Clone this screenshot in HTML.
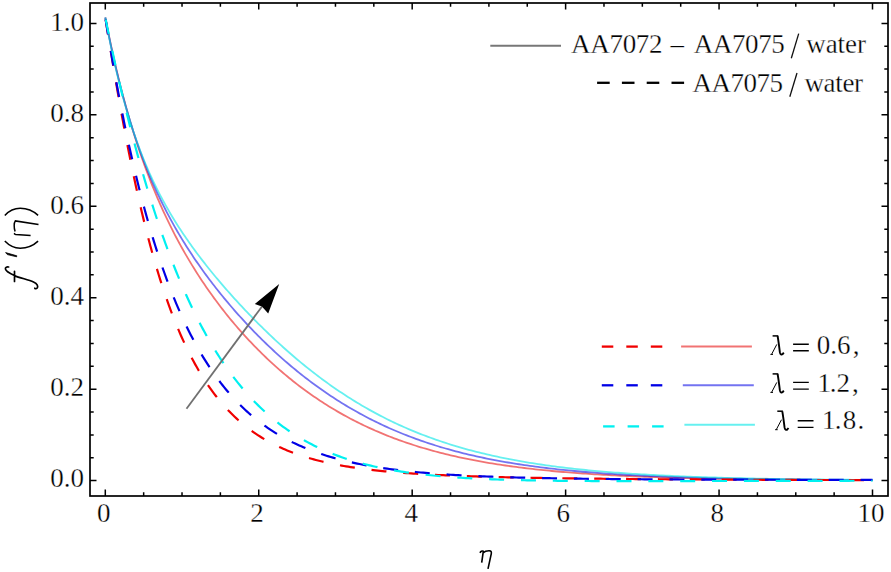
<!DOCTYPE html>
<html><head><meta charset="utf-8"><style>html,body{margin:0;padding:0;background:#fff;overflow:hidden}svg{display:block}</style></head>
<body><svg width="891" height="572" viewBox="0 0 891 572" font-family='"Liberation Serif", serif' font-size="27" fill="#000"><style>text{stroke:#fff;stroke-width:0.3px}</style>
<rect x="0" y="0" width="891" height="572" fill="#fff"/>
<path d="M105.30,17.49 L105.36,17.81 L105.49,18.47 L105.66,19.36 L105.88,20.45 L106.12,21.70 L106.40,23.12 L106.71,24.67 L107.04,26.35 L107.41,28.15 L107.79,30.07 L108.20,32.08 L108.64,34.20 L109.09,36.40 L109.57,38.69 L110.07,41.06 L110.59,43.51 L111.13,46.02 L111.69,48.60 L112.26,51.24 L112.86,53.93 L113.47,56.68 L114.10,59.48 L114.75,62.32 L115.42,65.20 L116.10,68.13 L116.80,71.09 L117.52,74.08 L118.25,77.10 L119.00,80.15 L119.76,83.22 L120.54,86.32 L121.33,89.43 L122.14,92.56 L122.97,95.71 L123.80,98.87 L124.66,102.04 L125.52,105.22 L126.41,108.41 L127.30,111.60 L128.21,114.79 L129.13,117.99 L130.07,121.19 L131.02,124.38 L131.99,127.58 L132.96,130.77 L133.95,133.96 L134.96,137.14 L135.97,140.31 L137.00,143.48 L138.04,146.63 L139.10,149.78 L140.16,152.92 L141.24,156.04 L142.33,159.16 L143.44,162.26 L144.55,165.35 L145.68,168.42 L146.82,171.48 L147.97,174.52 L149.13,177.55 L150.31,180.56 L151.49,183.56 L152.69,186.54 L153.90,189.51 L155.12,192.45 L156.35,195.39 L157.60,198.30 L158.85,201.19 L160.12,204.07 L161.39,206.93 L162.68,209.77 L163.98,212.60 L165.29,215.41 L166.61,218.19 L167.94,220.97 L169.28,223.72 L170.63,226.45 L172.00,229.17 L173.37,231.87 L174.75,234.55 L176.15,237.22 L177.55,239.86 L178.97,242.49 L180.39,245.10 L181.83,247.70 L183.27,250.27 L184.73,252.83 L186.20,255.37 L187.67,257.90 L189.16,260.41 L190.65,262.90 L192.16,265.37 L193.68,267.83 L195.20,270.28 L196.74,272.70 L198.28,275.11 L199.83,277.51 L201.40,279.88 L202.97,282.25 L204.56,284.59 L206.15,286.92 L207.75,289.24 L209.36,291.54 L210.98,293.82 L212.61,296.09 L214.25,298.35 L215.90,300.58 L217.56,302.81 L219.23,305.02 L220.91,307.21 L222.59,309.39 L224.29,311.55 L225.99,313.70 L227.71,315.83 L229.43,317.95 L231.16,320.06 L232.90,322.15 L234.65,324.22 L236.41,326.28 L238.18,328.33 L239.95,330.36 L241.74,332.38 L243.53,334.38 L245.33,336.37 L247.14,338.34 L248.96,340.29 L250.79,342.24 L252.63,344.17 L254.48,346.08 L256.33,347.98 L258.19,349.86 L260.07,351.73 L261.95,353.58 L263.83,355.42 L265.73,357.25 L267.64,359.05 L269.55,360.85 L271.47,362.63 L273.41,364.39 L275.34,366.14 L277.29,367.87 L279.25,369.59 L281.21,371.29 L283.18,372.98 L285.16,374.65 L287.15,376.31 L289.15,377.95 L291.16,379.57 L293.17,381.18 L295.19,382.78 L297.22,384.36 L299.26,385.92 L301.30,387.47 L303.36,389.00 L305.42,390.51 L307.49,392.01 L309.57,393.50 L311.65,394.97 L313.75,396.42 L315.85,397.86 L317.96,399.28 L320.07,400.68 L322.20,402.07 L324.33,403.44 L326.47,404.80 L328.62,406.14 L330.78,407.47 L332.94,408.78 L335.11,410.07 L337.29,411.35 L339.48,412.62 L341.68,413.86 L343.88,415.09 L346.09,416.31 L348.31,417.51 L350.53,418.69 L352.77,419.86 L355.01,421.02 L357.25,422.15 L359.51,423.28 L361.77,424.38 L364.04,425.47 L366.32,426.55 L368.61,427.61 L370.90,428.66 L373.20,429.69 L375.51,430.70 L377.83,431.70 L380.15,432.69 L382.48,433.66 L384.82,434.62 L387.16,435.56 L389.52,436.49 L391.88,437.40 L394.24,438.30 L396.62,439.18 L399.00,440.05 L401.39,440.91 L403.78,441.75 L406.19,442.58 L408.60,443.40 L411.02,444.20 L413.44,444.99 L415.87,445.76 L418.31,446.52 L420.76,447.27 L423.21,448.01 L425.68,448.73 L428.14,449.44 L430.62,450.14 L433.10,450.82 L435.59,451.50 L438.09,452.16 L440.59,452.81 L443.10,453.44 L445.62,454.07 L448.14,454.68 L450.67,455.28 L453.21,455.87 L455.76,456.45 L458.31,457.02 L460.87,457.58 L463.43,458.12 L466.01,458.66 L468.59,459.18 L471.17,459.70 L473.77,460.20 L476.37,460.69 L478.98,461.18 L481.59,461.65 L484.21,462.12 L486.84,462.57 L489.47,463.02 L492.11,463.45 L494.76,463.88 L497.42,464.30 L500.08,464.71 L502.75,465.11 L505.42,465.50 L508.11,465.88 L510.79,466.26 L513.49,466.63 L516.19,466.98 L518.90,467.34 L521.62,467.68 L524.34,468.01 L527.07,468.34 L529.80,468.66 L532.54,468.98 L535.29,469.28 L538.05,469.58 L540.81,469.87 L543.58,470.16 L546.35,470.44 L549.14,470.71 L551.92,470.98 L554.72,471.24 L557.52,471.49 L560.33,471.74 L563.14,471.98 L565.96,472.21 L568.79,472.44 L571.62,472.67 L574.46,472.89 L577.31,473.10 L580.16,473.31 L583.02,473.51 L585.89,473.71 L588.76,473.91 L591.64,474.09 L594.52,474.28 L597.42,474.46 L600.31,474.63 L603.22,474.80 L606.13,474.97 L609.05,475.13 L611.97,475.29 L614.90,475.44 L617.84,475.59 L620.78,475.73 L623.73,475.88 L626.68,476.01 L629.64,476.15 L632.61,476.28 L635.58,476.41 L638.57,476.53 L641.55,476.65 L644.54,476.77 L647.54,476.88 L650.55,476.99 L653.56,477.10 L656.58,477.21 L659.60,477.31 L662.63,477.41 L665.67,477.50 L668.71,477.60 L671.76,477.69 L674.81,477.78 L677.87,477.86 L680.94,477.95 L684.01,478.03 L687.09,478.11 L690.18,478.19 L693.27,478.26 L696.37,478.33 L699.47,478.40 L702.58,478.47 L705.70,478.54 L708.82,478.60 L711.95,478.67 L715.08,478.73 L718.22,478.79 L721.37,478.84 L724.52,478.90 L727.68,478.95 L730.84,479.01 L734.01,479.06 L737.19,479.11 L740.37,479.15 L743.56,479.20 L746.75,479.25 L749.95,479.29 L753.16,479.33 L756.37,479.37 L759.59,479.41 L762.81,479.45 L766.04,479.49 L769.28,479.53 L772.52,479.56 L775.77,479.60 L779.02,479.63 L782.28,479.66 L785.55,479.69 L788.82,479.72 L792.10,479.75 L795.38,479.78 L798.67,479.81 L801.97,479.83 L805.27,479.86 L808.57,479.88 L811.89,479.91 L815.20,479.93 L818.53,479.95 L821.86,479.98 L825.19,480.00 L828.53,480.02 L831.88,480.04 L835.24,480.06 L838.59,480.08 L841.96,480.09 L845.33,480.11 L848.71,480.13 L852.09,480.14 L855.48,480.16 L858.87,480.18 L862.27,480.19 L865.67,480.20 L869.08,480.22 L872.50,480.23" fill="none" stroke="#e60000" stroke-opacity="0.55" stroke-width="1.8"/>
<path d="M105.30,17.49 L105.36,17.82 L105.49,18.50 L105.66,19.41 L105.88,20.53 L106.12,21.82 L106.40,23.27 L106.71,24.86 L107.04,26.59 L107.41,28.43 L107.79,30.39 L108.20,32.45 L108.64,34.60 L109.09,36.85 L109.57,39.18 L110.07,41.59 L110.59,44.07 L111.13,46.62 L111.69,49.22 L112.26,51.89 L112.86,54.61 L113.47,57.37 L114.10,60.19 L114.75,63.04 L115.42,65.93 L116.10,68.85 L116.80,71.80 L117.52,74.78 L118.25,77.79 L119.00,80.81 L119.76,83.85 L120.54,86.91 L121.33,89.98 L122.14,93.06 L122.97,96.15 L123.80,99.25 L124.66,102.35 L125.52,105.45 L126.41,108.56 L127.30,111.66 L128.21,114.76 L129.13,117.85 L130.07,120.94 L131.02,124.02 L131.99,127.09 L132.96,130.15 L133.95,133.20 L134.96,136.24 L135.97,139.26 L137.00,142.27 L138.04,145.27 L139.10,148.25 L140.16,151.22 L141.24,154.17 L142.33,157.10 L143.44,160.02 L144.55,162.91 L145.68,165.79 L146.82,168.65 L147.97,171.50 L149.13,174.32 L150.31,177.12 L151.49,179.91 L152.69,182.67 L153.90,185.42 L155.12,188.15 L156.35,190.85 L157.60,193.54 L158.85,196.21 L160.12,198.86 L161.39,201.49 L162.68,204.11 L163.98,206.70 L165.29,209.28 L166.61,211.84 L167.94,214.38 L169.28,216.90 L170.63,219.41 L172.00,221.90 L173.37,224.37 L174.75,226.82 L176.15,229.26 L177.55,231.69 L178.97,234.09 L180.39,236.49 L181.83,238.86 L183.27,241.23 L184.73,243.58 L186.20,245.91 L187.67,248.23 L189.16,250.54 L190.65,252.83 L192.16,255.11 L193.68,257.38 L195.20,259.64 L196.74,261.88 L198.28,264.11 L199.83,266.33 L201.40,268.54 L202.97,270.74 L204.56,272.92 L206.15,275.10 L207.75,277.26 L209.36,279.42 L210.98,281.56 L212.61,283.69 L214.25,285.82 L215.90,287.93 L217.56,290.03 L219.23,292.13 L220.91,294.21 L222.59,296.29 L224.29,298.35 L225.99,300.41 L227.71,302.45 L229.43,304.49 L231.16,306.52 L232.90,308.53 L234.65,310.54 L236.41,312.54 L238.18,314.53 L239.95,316.51 L241.74,318.48 L243.53,320.45 L245.33,322.40 L247.14,324.34 L248.96,326.28 L250.79,328.20 L252.63,330.11 L254.48,332.02 L256.33,333.91 L258.19,335.80 L260.07,337.67 L261.95,339.53 L263.83,341.39 L265.73,343.23 L267.64,345.06 L269.55,346.89 L271.47,348.70 L273.41,350.50 L275.34,352.29 L277.29,354.07 L279.25,355.83 L281.21,357.59 L283.18,359.33 L285.16,361.06 L287.15,362.78 L289.15,364.49 L291.16,366.19 L293.17,367.87 L295.19,369.54 L297.22,371.20 L299.26,372.85 L301.30,374.48 L303.36,376.10 L305.42,377.71 L307.49,379.30 L309.57,380.88 L311.65,382.45 L313.75,384.00 L315.85,385.54 L317.96,387.07 L320.07,388.58 L322.20,390.08 L324.33,391.56 L326.47,393.04 L328.62,394.49 L330.78,395.93 L332.94,397.36 L335.11,398.77 L337.29,400.17 L339.48,401.55 L341.68,402.92 L343.88,404.28 L346.09,405.62 L348.31,406.94 L350.53,408.25 L352.77,409.54 L355.01,410.82 L357.25,412.09 L359.51,413.34 L361.77,414.57 L364.04,415.79 L366.32,416.99 L368.61,418.18 L370.90,419.36 L373.20,420.52 L375.51,421.66 L377.83,422.79 L380.15,423.90 L382.48,425.00 L384.82,426.09 L387.16,427.16 L389.52,428.21 L391.88,429.25 L394.24,430.27 L396.62,431.28 L399.00,432.28 L401.39,433.26 L403.78,434.22 L406.19,435.17 L408.60,436.11 L411.02,437.03 L413.44,437.94 L415.87,438.84 L418.31,439.72 L420.76,440.58 L423.21,441.43 L425.68,442.27 L428.14,443.10 L430.62,443.91 L433.10,444.70 L435.59,445.49 L438.09,446.26 L440.59,447.02 L443.10,447.76 L445.62,448.49 L448.14,449.21 L450.67,449.92 L453.21,450.61 L455.76,451.29 L458.31,451.96 L460.87,452.62 L463.43,453.26 L466.01,453.89 L468.59,454.51 L471.17,455.12 L473.77,455.72 L476.37,456.30 L478.98,456.88 L481.59,457.44 L484.21,458.00 L486.84,458.54 L489.47,459.07 L492.11,459.59 L494.76,460.10 L497.42,460.60 L500.08,461.09 L502.75,461.57 L505.42,462.04 L508.11,462.50 L510.79,462.95 L513.49,463.39 L516.19,463.82 L518.90,464.24 L521.62,464.66 L524.34,465.06 L527.07,465.46 L529.80,465.84 L532.54,466.22 L535.29,466.59 L538.05,466.96 L540.81,467.31 L543.58,467.66 L546.35,467.99 L549.14,468.33 L551.92,468.65 L554.72,468.96 L557.52,469.27 L560.33,469.57 L563.14,469.87 L565.96,470.16 L568.79,470.44 L571.62,470.71 L574.46,470.98 L577.31,471.24 L580.16,471.50 L583.02,471.75 L585.89,471.99 L588.76,472.23 L591.64,472.46 L594.52,472.68 L597.42,472.91 L600.31,473.12 L603.22,473.33 L606.13,473.53 L609.05,473.73 L611.97,473.93 L614.90,474.12 L617.84,474.30 L620.78,474.48 L623.73,474.66 L626.68,474.83 L629.64,474.99 L632.61,475.16 L635.58,475.31 L638.57,475.47 L641.55,475.62 L644.54,475.76 L647.54,475.90 L650.55,476.04 L653.56,476.18 L656.58,476.31 L659.60,476.44 L662.63,476.56 L665.67,476.68 L668.71,476.80 L671.76,476.91 L674.81,477.02 L677.87,477.13 L680.94,477.24 L684.01,477.34 L687.09,477.44 L690.18,477.53 L693.27,477.63 L696.37,477.72 L699.47,477.81 L702.58,477.89 L705.70,477.98 L708.82,478.06 L711.95,478.14 L715.08,478.21 L718.22,478.29 L721.37,478.36 L724.52,478.43 L727.68,478.50 L730.84,478.57 L734.01,478.63 L737.19,478.69 L740.37,478.75 L743.56,478.81 L746.75,478.87 L749.95,478.92 L753.16,478.98 L756.37,479.03 L759.59,479.08 L762.81,479.13 L766.04,479.18 L769.28,479.22 L772.52,479.27 L775.77,479.31 L779.02,479.35 L782.28,479.39 L785.55,479.43 L788.82,479.47 L792.10,479.51 L795.38,479.55 L798.67,479.58 L801.97,479.61 L805.27,479.65 L808.57,479.68 L811.89,479.71 L815.20,479.74 L818.53,479.77 L821.86,479.80 L825.19,479.82 L828.53,479.85 L831.88,479.88 L835.24,479.90 L838.59,479.92 L841.96,479.95 L845.33,479.97 L848.71,479.99 L852.09,480.01 L855.48,480.03 L858.87,480.05 L862.27,480.07 L865.67,480.09 L869.08,480.11 L872.50,480.12" fill="none" stroke="#0000e6" stroke-opacity="0.55" stroke-width="1.8"/>
<path d="M105.30,17.49 L105.36,17.83 L105.49,18.53 L105.66,19.47 L105.88,20.62 L106.12,21.96 L106.40,23.45 L106.71,25.09 L107.04,26.87 L107.41,28.76 L107.79,30.77 L108.20,32.89 L108.64,35.10 L109.09,37.40 L109.57,39.78 L110.07,42.24 L110.59,44.77 L111.13,47.37 L111.69,50.02 L112.26,52.73 L112.86,55.49 L113.47,58.29 L114.10,61.13 L114.75,64.01 L115.42,66.92 L116.10,69.86 L116.80,72.83 L117.52,75.82 L118.25,78.82 L119.00,81.84 L119.76,84.88 L120.54,87.92 L121.33,90.97 L122.14,94.02 L122.97,97.08 L123.80,100.14 L124.66,103.19 L125.52,106.24 L126.41,109.28 L127.30,112.32 L128.21,115.34 L129.13,118.36 L130.07,121.36 L131.02,124.35 L131.99,127.32 L132.96,130.28 L133.95,133.22 L134.96,136.14 L135.97,139.05 L137.00,141.93 L138.04,144.79 L139.10,147.64 L140.16,150.46 L141.24,153.26 L142.33,156.04 L143.44,158.80 L144.55,161.53 L145.68,164.24 L146.82,166.93 L147.97,169.60 L149.13,172.24 L150.31,174.86 L151.49,177.46 L152.69,180.04 L153.90,182.59 L155.12,185.13 L156.35,187.64 L157.60,190.13 L158.85,192.59 L160.12,195.04 L161.39,197.47 L162.68,199.88 L163.98,202.27 L165.29,204.64 L166.61,206.99 L167.94,209.32 L169.28,211.64 L170.63,213.93 L172.00,216.21 L173.37,218.48 L174.75,220.73 L176.15,222.96 L177.55,225.18 L178.97,227.39 L180.39,229.58 L181.83,231.76 L183.27,233.93 L184.73,236.08 L186.20,238.22 L187.67,240.35 L189.16,242.47 L190.65,244.58 L192.16,246.68 L193.68,248.77 L195.20,250.85 L196.74,252.93 L198.28,254.99 L199.83,257.04 L201.40,259.09 L202.97,261.13 L204.56,263.17 L206.15,265.19 L207.75,267.21 L209.36,269.22 L210.98,271.23 L212.61,273.23 L214.25,275.23 L215.90,277.22 L217.56,279.20 L219.23,281.18 L220.91,283.16 L222.59,285.13 L224.29,287.09 L225.99,289.05 L227.71,291.00 L229.43,292.95 L231.16,294.90 L232.90,296.84 L234.65,298.78 L236.41,300.71 L238.18,302.64 L239.95,304.56 L241.74,306.48 L243.53,308.39 L245.33,310.30 L247.14,312.20 L248.96,314.10 L250.79,315.99 L252.63,317.88 L254.48,319.76 L256.33,321.64 L258.19,323.51 L260.07,325.37 L261.95,327.23 L263.83,329.09 L265.73,330.93 L267.64,332.77 L269.55,334.60 L271.47,336.43 L273.41,338.25 L275.34,340.06 L277.29,341.86 L279.25,343.66 L281.21,345.45 L283.18,347.23 L285.16,349.00 L287.15,350.76 L289.15,352.52 L291.16,354.26 L293.17,356.00 L295.19,357.72 L297.22,359.44 L299.26,361.15 L301.30,362.84 L303.36,364.53 L305.42,366.20 L307.49,367.87 L309.57,369.52 L311.65,371.16 L313.75,372.79 L315.85,374.41 L317.96,376.02 L320.07,377.61 L322.20,379.20 L324.33,380.77 L326.47,382.33 L328.62,383.87 L330.78,385.40 L332.94,386.92 L335.11,388.43 L337.29,389.92 L339.48,391.40 L341.68,392.87 L343.88,394.32 L346.09,395.76 L348.31,397.18 L350.53,398.59 L352.77,399.99 L355.01,401.37 L357.25,402.74 L359.51,404.09 L361.77,405.43 L364.04,406.76 L366.32,408.06 L368.61,409.36 L370.90,410.64 L373.20,411.90 L375.51,413.15 L377.83,414.39 L380.15,415.61 L382.48,416.81 L384.82,418.00 L387.16,419.18 L389.52,420.34 L391.88,421.48 L394.24,422.61 L396.62,423.73 L399.00,424.83 L401.39,425.91 L403.78,426.98 L406.19,428.04 L408.60,429.08 L411.02,430.10 L413.44,431.11 L415.87,432.11 L418.31,433.09 L420.76,434.06 L423.21,435.01 L425.68,435.95 L428.14,436.87 L430.62,437.78 L433.10,438.68 L435.59,439.56 L438.09,440.42 L440.59,441.27 L443.10,442.11 L445.62,442.94 L448.14,443.75 L450.67,444.55 L453.21,445.33 L455.76,446.10 L458.31,446.86 L460.87,447.60 L463.43,448.34 L466.01,449.05 L468.59,449.76 L471.17,450.45 L473.77,451.13 L476.37,451.80 L478.98,452.46 L481.59,453.10 L484.21,453.73 L486.84,454.35 L489.47,454.96 L492.11,455.56 L494.76,456.15 L497.42,456.72 L500.08,457.28 L502.75,457.84 L505.42,458.38 L508.11,458.91 L510.79,459.43 L513.49,459.94 L516.19,460.44 L518.90,460.93 L521.62,461.41 L524.34,461.88 L527.07,462.34 L529.80,462.79 L532.54,463.23 L535.29,463.66 L538.05,464.08 L540.81,464.49 L543.58,464.90 L546.35,465.29 L549.14,465.68 L551.92,466.06 L554.72,466.43 L557.52,466.79 L560.33,467.15 L563.14,467.49 L565.96,467.83 L568.79,468.16 L571.62,468.49 L574.46,468.80 L577.31,469.11 L580.16,469.41 L583.02,469.71 L585.89,470.00 L588.76,470.28 L591.64,470.55 L594.52,470.82 L597.42,471.08 L600.31,471.34 L603.22,471.59 L606.13,471.83 L609.05,472.07 L611.97,472.30 L614.90,472.53 L617.84,472.75 L620.78,472.97 L623.73,473.18 L626.68,473.38 L629.64,473.58 L632.61,473.78 L635.58,473.97 L638.57,474.15 L641.55,474.34 L644.54,474.51 L647.54,474.68 L650.55,474.85 L653.56,475.01 L656.58,475.17 L659.60,475.33 L662.63,475.48 L665.67,475.63 L668.71,475.77 L671.76,475.91 L674.81,476.04 L677.87,476.18 L680.94,476.30 L684.01,476.43 L687.09,476.55 L690.18,476.67 L693.27,476.79 L696.37,476.90 L699.47,477.01 L702.58,477.11 L705.70,477.22 L708.82,477.32 L711.95,477.42 L715.08,477.51 L718.22,477.60 L721.37,477.69 L724.52,477.78 L727.68,477.87 L730.84,477.95 L734.01,478.03 L737.19,478.11 L740.37,478.18 L743.56,478.26 L746.75,478.33 L749.95,478.40 L753.16,478.47 L756.37,478.53 L759.59,478.60 L762.81,478.66 L766.04,478.72 L769.28,478.78 L772.52,478.83 L775.77,478.89 L779.02,478.94 L782.28,479.00 L785.55,479.05 L788.82,479.10 L792.10,479.14 L795.38,479.19 L798.67,479.23 L801.97,479.28 L805.27,479.32 L808.57,479.36 L811.89,479.40 L815.20,479.44 L818.53,479.48 L821.86,479.51 L825.19,479.55 L828.53,479.58 L831.88,479.61 L835.24,479.65 L838.59,479.68 L841.96,479.71 L845.33,479.74 L848.71,479.76 L852.09,479.79 L855.48,479.82 L858.87,479.84 L862.27,479.87 L865.67,479.89 L869.08,479.92 L872.50,479.94" fill="none" stroke="#00e6e6" stroke-opacity="0.6" stroke-width="1.8"/>
<path d="M105.30,17.50 L105.36,17.89 L105.49,18.68 L105.66,19.75 L105.88,21.06 L106.12,22.59 L106.40,24.31 L106.71,26.21 L107.04,28.29 L107.41,30.52 L107.79,32.90 L108.20,35.42 L108.64,38.08 L109.09,40.88 L109.57,43.80 L110.07,46.83 L110.59,49.99 L111.13,53.25 L111.69,56.62 L112.26,60.09 L112.86,63.66 L113.47,67.32 L114.10,71.07 L114.75,74.90 L115.42,78.81 L116.10,82.80 L116.80,86.86 L117.52,90.98 L118.25,95.17 L119.00,99.42 L119.76,103.73 L120.54,108.08 L121.33,112.49 L122.14,116.94 L122.97,121.42 L123.80,125.95 L124.66,130.51 L125.52,135.09 L126.41,139.70 L127.30,144.34 L128.21,148.99 L129.13,153.66 L130.07,158.34 L131.02,163.02 L131.99,167.72 L132.96,172.41 L133.95,177.10 L134.96,181.80 L135.97,186.48 L137.00,191.15 L138.04,195.82 L139.10,200.47 L140.16,205.10 L141.24,209.71 L142.33,214.30 L143.44,218.87 L144.55,223.41 L145.68,227.93 L146.82,232.41 L147.97,236.86 L149.13,241.28 L150.31,245.67 L151.49,250.01 L152.69,254.32 L153.90,258.59 L155.12,262.82 L156.35,267.01 L157.60,271.16 L158.85,275.26 L160.12,279.31 L161.39,283.32 L162.68,287.28 L163.98,291.19 L165.29,295.06 L166.61,298.87 L167.94,302.64 L169.28,306.36 L170.63,310.02 L172.00,313.63 L173.37,317.20 L174.75,320.71 L176.15,324.17 L177.55,327.57 L178.97,330.92 L180.39,334.23 L181.83,337.47 L183.27,340.67 L184.73,343.81 L186.20,346.90 L187.67,349.94 L189.16,352.93 L190.65,355.86 L192.16,358.74 L193.68,361.57 L195.20,364.35 L196.74,367.08 L198.28,369.76 L199.83,372.39 L201.40,374.96 L202.97,377.49 L204.56,379.97 L206.15,382.40 L207.75,384.78 L209.36,387.11 L210.98,389.40 L212.61,391.64 L214.25,393.83 L215.90,395.98 L217.56,398.09 L219.23,400.14 L220.91,402.16 L222.59,404.13 L224.29,406.06 L225.99,407.94 L227.71,409.78 L229.43,411.59 L231.16,413.35 L232.90,415.07 L234.65,416.75 L236.41,418.40 L238.18,420.00 L239.95,421.57 L241.74,423.11 L243.53,424.60 L245.33,426.06 L247.14,427.49 L248.96,428.88 L250.79,430.24 L252.63,431.56 L254.48,432.85 L256.33,434.11 L258.19,435.34 L260.07,436.54 L261.95,437.71 L263.83,438.85 L265.73,439.96 L267.64,441.04 L269.55,442.09 L271.47,443.12 L273.41,444.12 L275.34,445.10 L277.29,446.04 L279.25,446.97 L281.21,447.87 L283.18,448.75 L285.16,449.60 L287.15,450.43 L289.15,451.24 L291.16,452.02 L293.17,452.79 L295.19,453.53 L297.22,454.26 L299.26,454.96 L301.30,455.65 L303.36,456.31 L305.42,456.96 L307.49,457.59 L309.57,458.20 L311.65,458.80 L313.75,459.38 L315.85,459.94 L317.96,460.49 L320.07,461.02 L322.20,461.54 L324.33,462.04 L326.47,462.53 L328.62,463.00 L330.78,463.46 L332.94,463.91 L335.11,464.35 L337.29,464.77 L339.48,465.18 L341.68,465.58 L343.88,465.97 L346.09,466.34 L348.31,466.71 L350.53,467.06 L352.77,467.41 L355.01,467.74 L357.25,468.07 L359.51,468.38 L361.77,468.69 L364.04,468.99 L366.32,469.28 L368.61,469.56 L370.90,469.83 L373.20,470.10 L375.51,470.35 L377.83,470.60 L380.15,470.85 L382.48,471.08 L384.82,471.31 L387.16,471.53 L389.52,471.75 L391.88,471.96 L394.24,472.16 L396.62,472.36 L399.00,472.55 L401.39,472.74 L403.78,472.92 L406.19,473.10 L408.60,473.27 L411.02,473.43 L413.44,473.60 L415.87,473.75 L418.31,473.91 L420.76,474.05 L423.21,474.20 L425.68,474.34 L428.14,474.47 L430.62,474.61 L433.10,474.74 L435.59,474.86 L438.09,474.98 L440.59,475.10 L443.10,475.22 L445.62,475.33 L448.14,475.44 L450.67,475.55 L453.21,475.65 L455.76,475.75 L458.31,475.85 L460.87,475.94 L463.43,476.04 L466.01,476.13 L468.59,476.22 L471.17,476.30 L473.77,476.39 L476.37,476.47 L478.98,476.55 L481.59,476.62 L484.21,476.70 L486.84,476.77 L489.47,476.85 L492.11,476.92 L494.76,476.99 L497.42,477.05 L500.08,477.12 L502.75,477.18 L505.42,477.24 L508.11,477.30 L510.79,477.36 L513.49,477.42 L516.19,477.48 L518.90,477.53 L521.62,477.59 L524.34,477.64 L527.07,477.69 L529.80,477.74 L532.54,477.79 L535.29,477.84 L538.05,477.89 L540.81,477.93 L543.58,477.98 L546.35,478.02 L549.14,478.07 L551.92,478.11 L554.72,478.15 L557.52,478.19 L560.33,478.23 L563.14,478.27 L565.96,478.31 L568.79,478.35 L571.62,478.38 L574.46,478.42 L577.31,478.46 L580.16,478.49 L583.02,478.53 L585.89,478.56 L588.76,478.59 L591.64,478.62 L594.52,478.66 L597.42,478.69 L600.31,478.72 L603.22,478.75 L606.13,478.78 L609.05,478.81 L611.97,478.83 L614.90,478.86 L617.84,478.89 L620.78,478.92 L623.73,478.94 L626.68,478.97 L629.64,478.99 L632.61,479.02 L635.58,479.04 L638.57,479.07 L641.55,479.09 L644.54,479.12 L647.54,479.14 L650.55,479.16 L653.56,479.18 L656.58,479.21 L659.60,479.23 L662.63,479.25 L665.67,479.27 L668.71,479.29 L671.76,479.31 L674.81,479.33 L677.87,479.35 L680.94,479.37 L684.01,479.39 L687.09,479.41 L690.18,479.43 L693.27,479.45 L696.37,479.46 L699.47,479.48 L702.58,479.50 L705.70,479.52 L708.82,479.53 L711.95,479.55 L715.08,479.57 L718.22,479.58 L721.37,479.60 L724.52,479.61 L727.68,479.63 L730.84,479.64 L734.01,479.66 L737.19,479.67 L740.37,479.69 L743.56,479.70 L746.75,479.72 L749.95,479.73 L753.16,479.74 L756.37,479.76 L759.59,479.77 L762.81,479.78 L766.04,479.80 L769.28,479.81 L772.52,479.82 L775.77,479.83 L779.02,479.85 L782.28,479.86 L785.55,479.87 L788.82,479.88 L792.10,479.89 L795.38,479.90 L798.67,479.91 L801.97,479.93 L805.27,479.94 L808.57,479.95 L811.89,479.96 L815.20,479.97 L818.53,479.98 L821.86,479.99 L825.19,480.00 L828.53,480.01 L831.88,480.02 L835.24,480.03 L838.59,480.04 L841.96,480.04 L845.33,480.05 L848.71,480.06 L852.09,480.07 L855.48,480.08 L858.87,480.09 L862.27,480.10 L865.67,480.10 L869.08,480.11 L872.50,480.12" fill="none" stroke="#f00000" stroke-width="2.2" stroke-dasharray="15 16.85" stroke-dashoffset="-2.0"/>
<path d="M105.30,17.49 L105.36,17.89 L105.49,18.69 L105.66,19.78 L105.88,21.12 L106.12,22.66 L106.40,24.40 L106.71,26.31 L107.04,28.39 L107.41,30.62 L107.79,32.99 L108.20,35.49 L108.64,38.11 L109.09,40.86 L109.57,43.71 L110.07,46.67 L110.59,49.73 L111.13,52.88 L111.69,56.13 L112.26,59.45 L112.86,62.86 L113.47,66.34 L114.10,69.89 L114.75,73.50 L115.42,77.18 L116.10,80.92 L116.80,84.71 L117.52,88.55 L118.25,92.44 L119.00,96.37 L119.76,100.34 L120.54,104.35 L121.33,108.39 L122.14,112.47 L122.97,116.57 L123.80,120.70 L124.66,124.86 L125.52,129.03 L126.41,133.22 L127.30,137.42 L128.21,141.64 L129.13,145.87 L130.07,150.10 L131.02,154.34 L131.99,158.58 L132.96,162.83 L133.95,167.07 L134.96,171.31 L135.97,175.54 L137.00,179.77 L138.04,183.99 L139.10,188.20 L140.16,192.40 L141.24,196.59 L142.33,200.76 L143.44,204.91 L144.55,209.04 L145.68,213.16 L146.82,217.25 L147.97,221.32 L149.13,225.37 L150.31,229.40 L151.49,233.40 L152.69,237.37 L153.90,241.31 L155.12,245.23 L156.35,249.11 L157.60,252.97 L158.85,256.79 L160.12,260.58 L161.39,264.34 L162.68,268.06 L163.98,271.75 L165.29,275.41 L166.61,279.03 L167.94,282.61 L169.28,286.16 L170.63,289.66 L172.00,293.13 L173.37,296.57 L174.75,299.96 L176.15,303.31 L177.55,306.63 L178.97,309.91 L180.39,313.14 L181.83,316.34 L183.27,319.49 L184.73,322.61 L186.20,325.68 L187.67,328.72 L189.16,331.71 L190.65,334.66 L192.16,337.57 L193.68,340.45 L195.20,343.28 L196.74,346.06 L198.28,348.81 L199.83,351.52 L201.40,354.19 L202.97,356.81 L204.56,359.40 L206.15,361.94 L207.75,364.45 L209.36,366.92 L210.98,369.34 L212.61,371.73 L214.25,374.08 L215.90,376.38 L217.56,378.65 L219.23,380.88 L220.91,383.08 L222.59,385.23 L224.29,387.35 L225.99,389.43 L227.71,391.47 L229.43,393.48 L231.16,395.45 L232.90,397.38 L234.65,399.28 L236.41,401.14 L238.18,402.97 L239.95,404.77 L241.74,406.53 L243.53,408.25 L245.33,409.94 L247.14,411.60 L248.96,413.23 L250.79,414.82 L252.63,416.39 L254.48,417.92 L256.33,419.42 L258.19,420.89 L260.07,422.33 L261.95,423.74 L263.83,425.12 L265.73,426.48 L267.64,427.80 L269.55,429.10 L271.47,430.36 L273.41,431.60 L275.34,432.82 L277.29,434.01 L279.25,435.17 L281.21,436.31 L283.18,437.42 L285.16,438.51 L287.15,439.57 L289.15,440.61 L291.16,441.62 L293.17,442.62 L295.19,443.59 L297.22,444.53 L299.26,445.46 L301.30,446.36 L303.36,447.25 L305.42,448.11 L307.49,448.95 L309.57,449.77 L311.65,450.58 L313.75,451.36 L315.85,452.13 L317.96,452.87 L320.07,453.60 L322.20,454.31 L324.33,455.00 L326.47,455.68 L328.62,456.34 L330.78,456.98 L332.94,457.61 L335.11,458.22 L337.29,458.82 L339.48,459.40 L341.68,459.97 L343.88,460.52 L346.09,461.06 L348.31,461.59 L350.53,462.10 L352.77,462.59 L355.01,463.08 L357.25,463.55 L359.51,464.01 L361.77,464.46 L364.04,464.90 L366.32,465.32 L368.61,465.74 L370.90,466.14 L373.20,466.53 L375.51,466.91 L377.83,467.29 L380.15,467.65 L382.48,468.00 L384.82,468.34 L387.16,468.67 L389.52,469.00 L391.88,469.31 L394.24,469.62 L396.62,469.92 L399.00,470.21 L401.39,470.49 L403.78,470.76 L406.19,471.03 L408.60,471.29 L411.02,471.54 L413.44,471.79 L415.87,472.02 L418.31,472.26 L420.76,472.48 L423.21,472.70 L425.68,472.91 L428.14,473.12 L430.62,473.32 L433.10,473.51 L435.59,473.70 L438.09,473.88 L440.59,474.06 L443.10,474.24 L445.62,474.40 L448.14,474.57 L450.67,474.73 L453.21,474.88 L455.76,475.03 L458.31,475.17 L460.87,475.32 L463.43,475.45 L466.01,475.59 L468.59,475.71 L471.17,475.84 L473.77,475.96 L476.37,476.08 L478.98,476.19 L481.59,476.30 L484.21,476.41 L486.84,476.52 L489.47,476.62 L492.11,476.72 L494.76,476.81 L497.42,476.90 L500.08,476.99 L502.75,477.08 L505.42,477.17 L508.11,477.25 L510.79,477.33 L513.49,477.41 L516.19,477.48 L518.90,477.55 L521.62,477.62 L524.34,477.69 L527.07,477.76 L529.80,477.82 L532.54,477.89 L535.29,477.95 L538.05,478.00 L540.81,478.06 L543.58,478.12 L546.35,478.17 L549.14,478.22 L551.92,478.27 L554.72,478.32 L557.52,478.37 L560.33,478.41 L563.14,478.46 L565.96,478.50 L568.79,478.54 L571.62,478.58 L574.46,478.62 L577.31,478.66 L580.16,478.70 L583.02,478.74 L585.89,478.77 L588.76,478.80 L591.64,478.84 L594.52,478.87 L597.42,478.90 L600.31,478.93 L603.22,478.96 L606.13,478.99 L609.05,479.02 L611.97,479.04 L614.90,479.07 L617.84,479.09 L620.78,479.12 L623.73,479.14 L626.68,479.16 L629.64,479.19 L632.61,479.21 L635.58,479.23 L638.57,479.25 L641.55,479.27 L644.54,479.29 L647.54,479.31 L650.55,479.33 L653.56,479.34 L656.58,479.36 L659.60,479.38 L662.63,479.39 L665.67,479.41 L668.71,479.42 L671.76,479.44 L674.81,479.45 L677.87,479.47 L680.94,479.48 L684.01,479.50 L687.09,479.51 L690.18,479.52 L693.27,479.53 L696.37,479.55 L699.47,479.56 L702.58,479.57 L705.70,479.58 L708.82,479.59 L711.95,479.60 L715.08,479.61 L718.22,479.62 L721.37,479.63 L724.52,479.64 L727.68,479.65 L730.84,479.66 L734.01,479.67 L737.19,479.68 L740.37,479.68 L743.56,479.69 L746.75,479.70 L749.95,479.71 L753.16,479.72 L756.37,479.72 L759.59,479.73 L762.81,479.74 L766.04,479.75 L769.28,479.75 L772.52,479.76 L775.77,479.77 L779.02,479.77 L782.28,479.78 L785.55,479.78 L788.82,479.79 L792.10,479.80 L795.38,479.80 L798.67,479.81 L801.97,479.81 L805.27,479.82 L808.57,479.82 L811.89,479.83 L815.20,479.83 L818.53,479.84 L821.86,479.84 L825.19,479.85 L828.53,479.85 L831.88,479.86 L835.24,479.86 L838.59,479.87 L841.96,479.87 L845.33,479.88 L848.71,479.88 L852.09,479.89 L855.48,479.89 L858.87,479.89 L862.27,479.90 L865.67,479.90 L869.08,479.91 L872.50,479.91" fill="none" stroke="#0000e6" stroke-width="2.2" stroke-dasharray="15 16.85" stroke-dashoffset="-2.0"/>
<path d="M105.30,17.50 L105.36,17.81 L105.49,18.43 L105.66,19.28 L105.88,20.32 L106.12,21.52 L106.40,22.88 L106.71,24.37 L107.04,25.99 L107.41,27.74 L107.79,29.60 L108.20,31.57 L108.64,33.64 L109.09,35.80 L109.57,38.06 L110.07,40.41 L110.59,42.85 L111.13,45.36 L111.69,47.96 L112.26,50.62 L112.86,53.36 L113.47,56.17 L114.10,59.04 L114.75,61.98 L115.42,64.97 L116.10,68.02 L116.80,71.13 L117.52,74.29 L118.25,77.50 L119.00,80.75 L119.76,84.05 L120.54,87.39 L121.33,90.78 L122.14,94.20 L122.97,97.66 L123.80,101.15 L124.66,104.68 L125.52,108.24 L126.41,111.82 L127.30,115.44 L128.21,119.07 L129.13,122.73 L130.07,126.42 L131.02,130.12 L131.99,133.84 L132.96,137.58 L133.95,141.33 L134.96,145.09 L135.97,148.87 L137.00,152.66 L138.04,156.45 L139.10,160.25 L140.16,164.06 L141.24,167.88 L142.33,171.69 L143.44,175.51 L144.55,179.33 L145.68,183.14 L146.82,186.96 L147.97,190.77 L149.13,194.57 L150.31,198.37 L151.49,202.16 L152.69,205.95 L153.90,209.72 L155.12,213.48 L156.35,217.24 L157.60,220.98 L158.85,224.70 L160.12,228.41 L161.39,232.11 L162.68,235.79 L163.98,239.45 L165.29,243.09 L166.61,246.72 L167.94,250.32 L169.28,253.91 L170.63,257.47 L172.00,261.01 L173.37,264.53 L174.75,268.02 L176.15,271.49 L177.55,274.93 L178.97,278.35 L180.39,281.74 L181.83,285.11 L183.27,288.45 L184.73,291.76 L186.20,295.04 L187.67,298.29 L189.16,301.51 L190.65,304.71 L192.16,307.87 L193.68,311.00 L195.20,314.10 L196.74,317.17 L198.28,320.21 L199.83,323.22 L201.40,326.19 L202.97,329.13 L204.56,332.04 L206.15,334.92 L207.75,337.76 L209.36,340.57 L210.98,343.35 L212.61,346.09 L214.25,348.80 L215.90,351.47 L217.56,354.11 L219.23,356.72 L220.91,359.29 L222.59,361.82 L224.29,364.33 L225.99,366.79 L227.71,369.23 L229.43,371.63 L231.16,373.99 L232.90,376.32 L234.65,378.62 L236.41,380.88 L238.18,383.11 L239.95,385.30 L241.74,387.46 L243.53,389.59 L245.33,391.68 L247.14,393.74 L248.96,395.77 L250.79,397.76 L252.63,399.72 L254.48,401.65 L256.33,403.54 L258.19,405.40 L260.07,407.23 L261.95,409.03 L263.83,410.79 L265.73,412.53 L267.64,414.23 L269.55,415.90 L271.47,417.54 L273.41,419.15 L275.34,420.73 L277.29,422.28 L279.25,423.80 L281.21,425.29 L283.18,426.76 L285.16,428.19 L287.15,429.59 L289.15,430.97 L291.16,432.32 L293.17,433.64 L295.19,434.93 L297.22,436.20 L299.26,437.44 L301.30,438.65 L303.36,439.84 L305.42,441.00 L307.49,442.14 L309.57,443.25 L311.65,444.34 L313.75,445.40 L315.85,446.44 L317.96,447.46 L320.07,448.45 L322.20,449.42 L324.33,450.37 L326.47,451.29 L328.62,452.20 L330.78,453.08 L332.94,453.94 L335.11,454.78 L337.29,455.60 L339.48,456.40 L341.68,457.18 L343.88,457.94 L346.09,458.68 L348.31,459.40 L350.53,460.11 L352.77,460.79 L355.01,461.46 L357.25,462.11 L359.51,462.74 L361.77,463.36 L364.04,463.96 L366.32,464.54 L368.61,465.11 L370.90,465.66 L373.20,466.20 L375.51,466.72 L377.83,467.23 L380.15,467.73 L382.48,468.20 L384.82,468.67 L387.16,469.12 L389.52,469.56 L391.88,469.99 L394.24,470.40 L396.62,470.80 L399.00,471.19 L401.39,471.57 L403.78,471.94 L406.19,472.29 L408.60,472.64 L411.02,472.97 L413.44,473.29 L415.87,473.60 L418.31,473.91 L420.76,474.20 L423.21,474.48 L425.68,474.76 L428.14,475.02 L430.62,475.28 L433.10,475.53 L435.59,475.77 L438.09,476.00 L440.59,476.22 L443.10,476.44 L445.62,476.65 L448.14,476.85 L450.67,477.04 L453.21,477.23 L455.76,477.41 L458.31,477.58 L460.87,477.75 L463.43,477.91 L466.01,478.06 L468.59,478.21 L471.17,478.36 L473.77,478.49 L476.37,478.63 L478.98,478.75 L481.59,478.88 L484.21,478.99 L486.84,479.11 L489.47,479.22 L492.11,479.32 L494.76,479.42 L497.42,479.51 L500.08,479.60 L502.75,479.69 L505.42,479.78 L508.11,479.86 L510.79,479.93 L513.49,480.00 L516.19,480.07 L518.90,480.14 L521.62,480.20 L524.34,480.26 L527.07,480.32 L529.80,480.37 L532.54,480.43 L535.29,480.47 L538.05,480.52 L540.81,480.57 L543.58,480.61 L546.35,480.65 L549.14,480.68 L551.92,480.72 L554.72,480.75 L557.52,480.78 L560.33,480.81 L563.14,480.84 L565.96,480.87 L568.79,480.89 L571.62,480.91 L574.46,480.93 L577.31,480.95 L580.16,480.97 L583.02,480.99 L585.89,481.00 L588.76,481.02 L591.64,481.03 L594.52,481.04 L597.42,481.06 L600.31,481.07 L603.22,481.07 L606.13,481.08 L609.05,481.09 L611.97,481.10 L614.90,481.10 L617.84,481.11 L620.78,481.11 L623.73,481.11 L626.68,481.11 L629.64,481.12 L632.61,481.12 L635.58,481.12 L638.57,481.12 L641.55,481.12 L644.54,481.12 L647.54,481.12 L650.55,481.11 L653.56,481.11 L656.58,481.11 L659.60,481.11 L662.63,481.10 L665.67,481.10 L668.71,481.10 L671.76,481.09 L674.81,481.09 L677.87,481.08 L680.94,481.08 L684.01,481.07 L687.09,481.07 L690.18,481.06 L693.27,481.06 L696.37,481.05 L699.47,481.05 L702.58,481.04 L705.70,481.03 L708.82,481.03 L711.95,481.02 L715.08,481.02 L718.22,481.01 L721.37,481.00 L724.52,481.00 L727.68,480.99 L730.84,480.98 L734.01,480.98 L737.19,480.97 L740.37,480.97 L743.56,480.96 L746.75,480.95 L749.95,480.95 L753.16,480.94 L756.37,480.93 L759.59,480.93 L762.81,480.92 L766.04,480.91 L769.28,480.91 L772.52,480.90 L775.77,480.90 L779.02,480.89 L782.28,480.88 L785.55,480.88 L788.82,480.87 L792.10,480.87 L795.38,480.86 L798.67,480.85 L801.97,480.85 L805.27,480.84 L808.57,480.84 L811.89,480.83 L815.20,480.83 L818.53,480.82 L821.86,480.82 L825.19,480.81 L828.53,480.81 L831.88,480.80 L835.24,480.80 L838.59,480.79 L841.96,480.79 L845.33,480.78 L848.71,480.78 L852.09,480.77 L855.48,480.77 L858.87,480.77 L862.27,480.76 L865.67,480.76 L869.08,480.75 L872.50,480.75" fill="none" stroke="#00f0f0" stroke-width="2.2" stroke-dasharray="15 16.85" stroke-dashoffset="-2.0"/>
<path d="M105.30,496 V489.50 M105.30,3 V9.50 M143.66,496 V492.30 M143.66,3 V6.70 M182.02,496 V492.30 M182.02,3 V6.70 M220.38,496 V492.30 M220.38,3 V6.70 M258.74,496 V489.50 M258.74,3 V9.50 M297.10,496 V492.30 M297.10,3 V6.70 M335.46,496 V492.30 M335.46,3 V6.70 M373.82,496 V492.30 M373.82,3 V6.70 M412.18,496 V489.50 M412.18,3 V9.50 M450.54,496 V492.30 M450.54,3 V6.70 M488.90,496 V492.30 M488.90,3 V6.70 M527.26,496 V492.30 M527.26,3 V6.70 M565.62,496 V489.50 M565.62,3 V9.50 M603.98,496 V492.30 M603.98,3 V6.70 M642.34,496 V492.30 M642.34,3 V6.70 M680.70,496 V492.30 M680.70,3 V6.70 M719.06,496 V489.50 M719.06,3 V9.50 M757.42,496 V492.30 M757.42,3 V6.70 M795.78,496 V492.30 M795.78,3 V6.70 M834.14,496 V492.30 M834.14,3 V6.70 M872.50,496 V489.50 M872.50,3 V9.50 M90,480.60 H96.50 M888,480.60 H881.50 M90,457.74 H93.70 M888,457.74 H884.30 M90,434.88 H93.70 M888,434.88 H884.30 M90,412.02 H93.70 M888,412.02 H884.30 M90,389.16 H96.50 M888,389.16 H881.50 M90,366.30 H93.70 M888,366.30 H884.30 M90,343.44 H93.70 M888,343.44 H884.30 M90,320.58 H93.70 M888,320.58 H884.30 M90,297.72 H96.50 M888,297.72 H881.50 M90,274.86 H93.70 M888,274.86 H884.30 M90,252.00 H93.70 M888,252.00 H884.30 M90,229.14 H93.70 M888,229.14 H884.30 M90,206.28 H96.50 M888,206.28 H881.50 M90,183.42 H93.70 M888,183.42 H884.30 M90,160.56 H93.70 M888,160.56 H884.30 M90,137.70 H93.70 M888,137.70 H884.30 M90,114.84 H96.50 M888,114.84 H881.50 M90,91.98 H93.70 M888,91.98 H884.30 M90,69.12 H93.70 M888,69.12 H884.30 M90,46.26 H93.70 M888,46.26 H884.30 M90,23.40 H96.50 M888,23.40 H881.50" stroke="#000" stroke-width="1.5" fill="none"/>
<rect x="90" y="3" width="798" height="493" fill="none" stroke="#000" stroke-width="1.7"/>
<text x="84.0" y="487.3" text-anchor="end">0.0</text>
<text x="84.0" y="396.3" text-anchor="end">0.2</text>
<text x="84.0" y="304.5" text-anchor="end">0.4</text>
<text x="84.0" y="214.1" text-anchor="end">0.6</text>
<text x="84.0" y="121.7" text-anchor="end">0.8</text>
<text x="84.0" y="31.3" text-anchor="end">1.0</text>
<text x="103.75" y="522.4" text-anchor="middle">0</text>
<text x="256.95" y="522.4" text-anchor="middle">2</text>
<text x="411.25" y="522.4" text-anchor="middle">4</text>
<text x="563.35" y="522.4" text-anchor="middle">6</text>
<text x="717.35" y="522.4" text-anchor="middle">8</text>
<text x="870.9" y="522.4" text-anchor="middle">10</text>
<path d="M480.0,552.9 C480.6,551.4 482.0,550.5 483.3,551.3 L481.7,562.7 M483.0,553.0 C484.8,551.3 486.8,550.7 489.4,550.8 C491.0,550.9 491.6,551.7 491.3,553.6 L488.0,568.9" fill="none" stroke="#000" stroke-width="1.6"/>
<path d="M4.8,215.4 C10,209.9 15,208.3 20.2,208.3 C26,208.3 32.5,210.2 38.1,215.4 M4.8,241.1 C10,246.6 15,248.2 20.2,248.2 C26,248.2 32.5,246.3 38.1,241.1" fill="none" stroke="#000" stroke-width="1.5"/>
<path d="M38.5,224.4 L15.3,220.9 C13.9,222.6 13.8,228 15.1,231.4 M13.9,233.4 C15,233.9 14.6,234.5 15.8,234.6 L30.6,235.4" fill="none" stroke="#000" stroke-width="1.5"/>
<path d="M8.6,267.0 C7,266.6 5.2,267.2 5.4,268.8 C5.6,270.5 8,272.5 14.5,275.6 C20,278 28,279.6 33.5,282 C37.5,283.8 38.5,286.5 37,288.2 C36.3,289 35.2,288.8 34.8,288.2 M14.5,271.3 L14.5,281.5" fill="none" stroke="#000" stroke-width="1.7" stroke-linecap="round"/>
<path d="M5.6,252.6 L7.4,254.6 L16.6,256.8 L16.8,255.8 Z" fill="#000" stroke="#000" stroke-width="0.8" stroke-linejoin="round"/>
<line x1="490.3" y1="45.7" x2="561" y2="45.7" stroke="#777" stroke-width="2"/>
<text x="571.1" y="53" textLength="91.4" lengthAdjust="spacing">AA7072</text>
<text x="670.4" y="53">–</text>
<text x="693.8" y="53" textLength="91" lengthAdjust="spacing">AA7075</text>
<line x1="791.3" y1="58.3" x2="798.7" y2="33.6" stroke="#111" stroke-width="1.3"/>
<text x="806.2" y="53" textLength="59.8" lengthAdjust="spacing">water</text>
<line x1="597.1" y1="82.8" x2="609.7" y2="82.8" stroke="#000" stroke-width="2.3"/>
<line x1="621.9" y1="82.8" x2="634.5" y2="82.8" stroke="#000" stroke-width="2.3"/>
<line x1="646.7" y1="82.8" x2="659.3000000000001" y2="82.8" stroke="#000" stroke-width="2.3"/>
<line x1="671.5" y1="82.8" x2="684.1" y2="82.8" stroke="#000" stroke-width="2.3"/>
<text x="692.5" y="91.5" textLength="90.5" lengthAdjust="spacing">AA7075</text>
<line x1="789.8" y1="96.7" x2="797" y2="73" stroke="#111" stroke-width="1.3"/>
<text x="804.4" y="91.5" textLength="58.7" lengthAdjust="spacing">water</text>
<line x1="601.8" y1="346.6" x2="613.3" y2="346.6" stroke="#f00000" stroke-width="2.3"/>
<line x1="626.3" y1="346.6" x2="637.8" y2="346.6" stroke="#f00000" stroke-width="2.3"/>
<line x1="650.8" y1="346.6" x2="662.3" y2="346.6" stroke="#f00000" stroke-width="2.3"/>
<line x1="681.1" y1="346.6" x2="751.9" y2="346.6" stroke="#e60000" stroke-opacity="0.55" stroke-width="2"/>
<path d="M772.60,335.90 L778.20,335.90" stroke="#000" stroke-width="1.5" fill="none"/>
<path d="M777.60,336.00 C778.60,341.60 779.40,348.60 779.90,352.40 C780.30,354.60 781.60,354.90 782.50,354.30 L783.80,352.70" stroke="#000" stroke-width="1.9" fill="none"/>
<path d="M776.80,344.40 L771.60,354.30 M770.40,354.40 L773.00,354.40" stroke="#000" stroke-width="1.0" fill="none"/>
<text x="816.7 830.3 837 852.7" y="354">0.6,</text>
<path d="M793.1,344.2 H808.8 M793.1,350.8 H808.8" stroke="#000" stroke-width="1.4"/>
<line x1="601.8" y1="385.3" x2="613.3" y2="385.3" stroke="#0000e6" stroke-width="2.3"/>
<line x1="626.3" y1="385.3" x2="637.8" y2="385.3" stroke="#0000e6" stroke-width="2.3"/>
<line x1="650.8" y1="385.3" x2="662.3" y2="385.3" stroke="#0000e6" stroke-width="2.3"/>
<line x1="682.8" y1="385.3" x2="753.8" y2="385.3" stroke="#0000e6" stroke-opacity="0.55" stroke-width="2"/>
<path d="M772.60,373.90 L778.20,373.90" stroke="#000" stroke-width="1.5" fill="none"/>
<path d="M777.60,374.00 C778.60,379.60 779.40,386.60 779.90,390.40 C780.30,392.60 781.60,392.90 782.50,392.30 L783.80,390.70" stroke="#000" stroke-width="1.9" fill="none"/>
<path d="M776.80,382.40 L771.60,392.30 M770.40,392.40 L773.00,392.40" stroke="#000" stroke-width="1.0" fill="none"/>
<text x="817.4 829.8 836.4 852.1" y="392">1.2,</text>
<path d="M793.1,382.4 H808.8 M793.1,389.1 H808.8" stroke="#000" stroke-width="1.4"/>
<line x1="603.1" y1="426.4" x2="614.6" y2="426.4" stroke="#00f0f0" stroke-width="2.3"/>
<line x1="627.6" y1="426.4" x2="639.1" y2="426.4" stroke="#00f0f0" stroke-width="2.3"/>
<line x1="652.1" y1="426.4" x2="663.6" y2="426.4" stroke="#00f0f0" stroke-width="2.3"/>
<line x1="684.4" y1="424.8" x2="754.9" y2="424.8" stroke="#00e6e6" stroke-opacity="0.6" stroke-width="2"/>
<path d="M777.30,411.20 L782.90,411.20" stroke="#000" stroke-width="1.5" fill="none"/>
<path d="M782.30,411.30 C783.30,416.90 784.10,423.90 784.60,427.70 C785.00,429.90 786.30,430.20 787.20,429.60 L788.50,428.00" stroke="#000" stroke-width="1.9" fill="none"/>
<path d="M781.50,419.70 L776.30,429.60 M775.10,429.70 L777.70,429.70" stroke="#000" stroke-width="1.0" fill="none"/>
<text x="822.1 834.7 842.8 857.5" y="429.3">1.8.</text>
<path d="M797.7,420.7 H813.5 M797.7,427.4 H813.5" stroke="#000" stroke-width="1.4"/>
<line x1="186.5" y1="408.7" x2="262" y2="306.5" stroke="#707070" stroke-width="1.8"/>
<path d="M279.2,284 L254.8,304.1 L261.9,306.5 L268.2,313.5 Z" fill="#000"/>
</svg></body></html>
